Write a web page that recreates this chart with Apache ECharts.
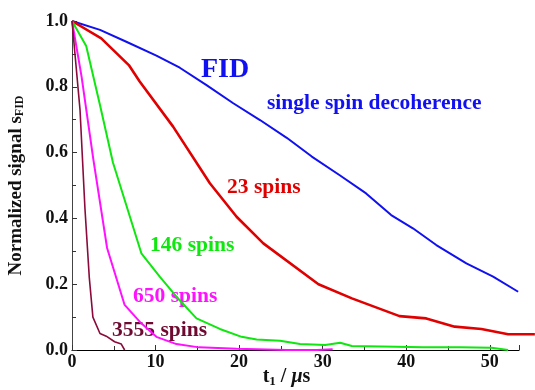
<!DOCTYPE html>
<html>
<head>
<meta charset="utf-8">
<script src="https://cdn.jsdelivr.net/npm/echarts@6/dist/echarts.min.js"></script>
<style>
  html, body { margin: 0; padding: 0; background: #fff; }
  #chart { width: 535px; height: 390px; }
</style>
</head>
<body>
<div id="chart"></div>
<script>
// t1 in microseconds, signal normalized
const fidT = [0, 3.35, 6.5, 10.1, 12.9, 16.1, 19.3, 22.5, 25.7, 28.7, 32, 35.2, 38.2, 40.8, 43.6, 47.2, 50.4, 53.4];
const fidS = [1.0, 0.973, 0.937, 0.895, 0.858, 0.805, 0.75, 0.699, 0.645, 0.588, 0.532, 0.476, 0.41, 0.37, 0.319, 0.263, 0.223, 0.177];

const s23T = [0, 3.5, 6.8, 8.1, 12.1, 16.5, 19.7, 22.9, 29.5, 33.5, 39.2, 42.4, 45.8, 49, 52.2, 55.4];
const s23S = [1.0, 0.947, 0.866, 0.816, 0.679, 0.507, 0.405, 0.324, 0.2, 0.157, 0.103, 0.096, 0.071, 0.064, 0.048, 0.048];

const s146T = [0, 1.7, 3.3, 4.9, 8.3, 10.5, 12.5, 14.9, 17.7, 20.3, 22.1, 24.9, 27.3, 30.3, 32.1, 33.5, 38.8, 42, 46.4, 50.2, 52.2];
const s146S = [1.0, 0.924, 0.75, 0.57, 0.294, 0.223, 0.162, 0.096, 0.064, 0.04, 0.032, 0.028, 0.018, 0.015, 0.022, 0.012, 0.01, 0.008, 0.008, 0.007, 0.0];

const s650T = [0, 1.15, 2.55, 4.2, 6.3, 8.1, 10.1, 12.5, 15.2, 19.7, 25.7, 29.3, 31.2];
const s650S = [1.0, 0.83, 0.58, 0.31, 0.137, 0.086, 0.04, 0.018, 0.008, 0.004, 0.0, 0.0, 0.002];

const s3555T = [0, 0.96, 1.55, 2.07, 2.5, 3.35, 4.1, 5.1, 5.9, 6.3];
const s3555S = [1.0, 0.73, 0.43, 0.22, 0.10, 0.05, 0.042, 0.025, 0.018, 0.0];

const yTicks = ['0.0', '0.2', '0.4', '0.6', '0.8', '1.0'];

const zip = (t, s) => t.map((x, i) => [x, s[i]]);
const serif = '"Liberation Serif", "DejaVu Serif", serif';

// plot box; the 23-spin curve runs on past the axis end to the page edge
const W = 535, L = 72, R = 16;
const xMax = 53.5;
const xMaxWide = xMax * (W - L) / (W - L - R);

const chart = echarts.init(document.getElementById('chart'));

function line(name, t, s, color, width, axis) {
  return {
    name: name,
    type: 'line',
    data: zip(t, s),
    symbol: 'none',
    xAxisIndex: axis,
    yAxisIndex: axis,
    clip: axis === 0,
    lineStyle: { color: color, width: width },
    animation: false
  };
}

function label(text, left, top, color, size) {
  return {
    type: 'text',
    left: left,
    top: top,
    style: { text: text, fill: color, font: 'bold ' + size + 'px ' + serif }
  };
}

chart.setOption({
  animation: false,
  grid: [
    { left: L, right: R, top: 21, bottom: 40, containLabel: false, outerBoundsMode: 'none' },
    { left: L, right: 0, top: 21, bottom: 40, containLabel: false, outerBoundsMode: 'none' }
  ],
  xAxis: [{
    type: 'value',
    gridIndex: 0,
    min: 0,
    max: xMax,
    interval: 10,
    name: '{t|t}{sub|1}{t| / }{mu|μ}{t|s}',
    nameLocation: 'middle',
    nameGap: 16,
    nameMoveOverlap: false,
    nameTextStyle: {
      padding: [0, 18, 0, 0],
      rich: {
        t: { fontFamily: serif, fontWeight: 'bold', fontSize: 20, lineHeight: 22, color: '#111' },
        mu: { fontFamily: serif, fontWeight: 'bold', fontStyle: 'italic', fontSize: 20, lineHeight: 22, color: '#111' },
        sub: { fontFamily: serif, fontWeight: 'bold', fontSize: 13, lineHeight: 14, color: '#111', verticalAlign: 'bottom' }
      }
    },
    axisLine: { lineStyle: { color: '#000', width: 1.2 } },
    axisTick: { inside: true, length: 5, lineStyle: { color: '#333' } },
    minorTick: { show: true, splitNumber: 2, length: 4, lineStyle: { color: '#333' } },
    axisLabel: { showMaxLabel: false, margin: 3, color: '#111', fontFamily: serif, fontWeight: 'bold', fontSize: 18 },
    splitLine: { show: false }
  }, {
    type: 'value',
    gridIndex: 1,
    min: 0,
    max: xMaxWide,
    show: false
  }],
  yAxis: [{
    type: 'value',
    gridIndex: 0,
    min: 0,
    max: 1,
    interval: 0.2,
    name: '{t|Normalized signal s}{sub|FID}',
    nameLocation: 'middle',
    nameGap: 46,
    nameRotate: 90,
    nameMoveOverlap: false,
    nameTextStyle: {
      rich: {
        t: { fontFamily: serif, fontWeight: 'bold', fontSize: 19, color: '#111' },
        sub: { fontFamily: serif, fontWeight: 'bold', fontSize: 12, color: '#111', verticalAlign: 'bottom', padding: [8, 0, 0, 0] }
      }
    },
    axisLine: { show: true, lineStyle: { color: '#444', width: 1 } },
    axisTick: { show: true, inside: true, length: 5, lineStyle: { color: '#333' } },
    minorTick: { show: true, splitNumber: 2, length: 4, lineStyle: { color: '#333' } },
    axisLabel: {
      margin: 4,
      color: '#111',
      fontFamily: serif,
      fontWeight: 'bold',
      fontSize: 18,
      formatter: (v) => yTicks[Math.round(v / 0.2)]
    },
    splitLine: { show: false }
  }, {
    type: 'value',
    gridIndex: 1,
    min: 0,
    max: 1,
    show: false
  }],
  series: [
    line('single spin decoherence', fidT, fidS, '#1010f0', 2, 0),
    line('23 spins', s23T, s23S, '#e00000', 2.6, 1),
    line('146 spins', s146T, s146S, '#10e610', 2, 0),
    line('650 spins', s650T, s650S, '#ff10ff', 2, 0),
    line('3555 spins', s3555T, s3555S, '#8a0a3a', 1.6, 0)
  ],
  graphic: [
    label('FID', 201, 56, '#1010f0', 28),
    label('single spin decoherence', 267, 92, '#1010f0', 21.5),
    label('23 spins', 227, 176, '#e00000', 21.5),
    label('146 spins', 150, 234, '#10e610', 21.5),
    label('650 spins', 133, 285, '#ff10ff', 21.5),
    label('3555 spins', 112, 319, '#6e0a30', 21.5)
  ]
});
</script>
</body>
</html>
